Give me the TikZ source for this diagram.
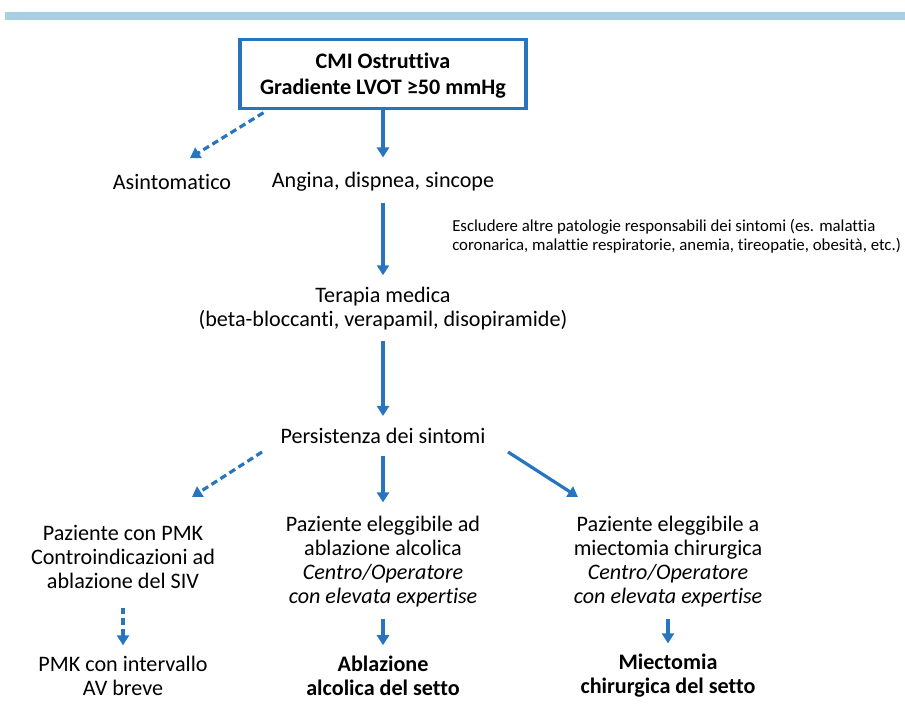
\documentclass[tikz,border=0pt]{standalone}
\usepackage{fontspec}
\setmainfont{Carlito}[Ligatures=NoCommon]
\usetikzlibrary{arrows.meta, positioning}
\definecolor{flowblue}{RGB}{40,117,190}
\definecolor{barblue}{RGB}{167,208,227}

\begin{document}
\begin{tikzpicture}[
    x=0.75pt, y=-0.75pt,
    on grid,
    txt/.style={align=center, font=\fontsize{16.6}{18}\selectfont, inner sep=2pt},
    txtb/.style={txt, font=\bfseries\fontsize{16.6}{18}\selectfont},
    note/.style={align=left, font=\fontsize{12.6}{14.3}\selectfont, inner sep=0pt},
    topbox/.style={draw=flowblue, line width=2.3pt, minimum width=214.5pt, minimum height=51.75pt, align=center, text depth=-3pt, font=\bfseries\fontsize{16.6}{19.5}\selectfont},
    flow/.style={draw=flowblue, line width=2.4pt, -{Triangle[length=7.5pt, width=9pt]}},
    maybe/.style={flow, dash pattern=on 5pt off 3pt}
]
\useasboundingbox (0,0) rectangle (905,712);

% Band
\fill[barblue] (5,12) rectangle (905,20);

% Start
\node[topbox] (cmi) at (383,74) {CMI Ostruttiva\\Gradiente LVOT ≥50 mmHg};

% Symptoms and therapy
\node[txt, below=81pt of cmi] (sint) {Angina, dispnea, sincope};
\node[txt, left=158.25pt of sint] (asint) {Asintomatico};
\node[note, below right=40.5pt and 51.75pt of sint, anchor=west] (escl) {Escludere altre patologie responsabili dei sintomi (es. malattia\\coronarica, malattie respiratorie, anemia, tireopatie, obesità, etc.)};
\node[txt, below=95.25pt of sint] (terapia) {Terapia medica\\(beta-bloccanti, verapamil, disopiramide)};
\node[txt, below=95.25pt of terapia] (persist) {Persistenza dei sintomi};

% Options
\node[txt, below left=90.75pt and 195pt of persist] (pmk) {Paziente con PMK\\Controindicazioni ad\\ablazione del SIV};
\node[txt, below=94.1pt of persist] (alcol) {Paziente eleggibile ad\\ablazione alcolica\\\textit{Centro/Operatore}\\\textit{con elevata expertise}};
\node[txt, below right=94.1pt and 213.75pt of persist] (miect) {Paziente eleggibile a\\miectomia chirurgica\\\textit{Centro/Operatore}\\\textit{con elevata expertise}};

% Outcomes
\node[txt, below=89.25pt of pmk] (pmkav) {PMK con intervallo\\AV breve};
\node[txtb, below=85.9pt of alcol] (abl) {Ablazione\\alcolica del setto};
\node[txtb, below=85.9pt of miect] (mio) {Miectomia\\chirurgica del setto};

% Connections
\draw[maybe] ([xshift=18.75pt, yshift=-2pt]cmi.south west) -- ([shift={(18,-24)}]asint.center);
\draw[flow, shorten >=9pt] (cmi) -- (sint);
\draw[flow, shorten <=6pt, shorten >=7pt] (sint) -- (terapia);
\draw[flow, shorten <=6pt, shorten >=7pt] (terapia) -- (persist);

\draw[maybe] ([shift={(-121,16)}]persist.center) -- ([shift={(69,-60)}]pmk.center);
\draw[flow, shorten <=7pt, shorten >=8pt] (persist) -- (alcol);
\draw[flow] ([shift={(125,16)}]persist.center) -- ([shift={(-90,-64.5)}]miect.center);

\draw[maybe, shorten <=12pt, shorten >=6pt] (pmk) -- (pmkav);
\draw[flow, shorten <=7pt, shorten >=6pt] (alcol) -- (abl);
\draw[flow, shorten <=7pt, shorten >=6pt] (miect) -- (mio);

\end{tikzpicture}
\end{document}
